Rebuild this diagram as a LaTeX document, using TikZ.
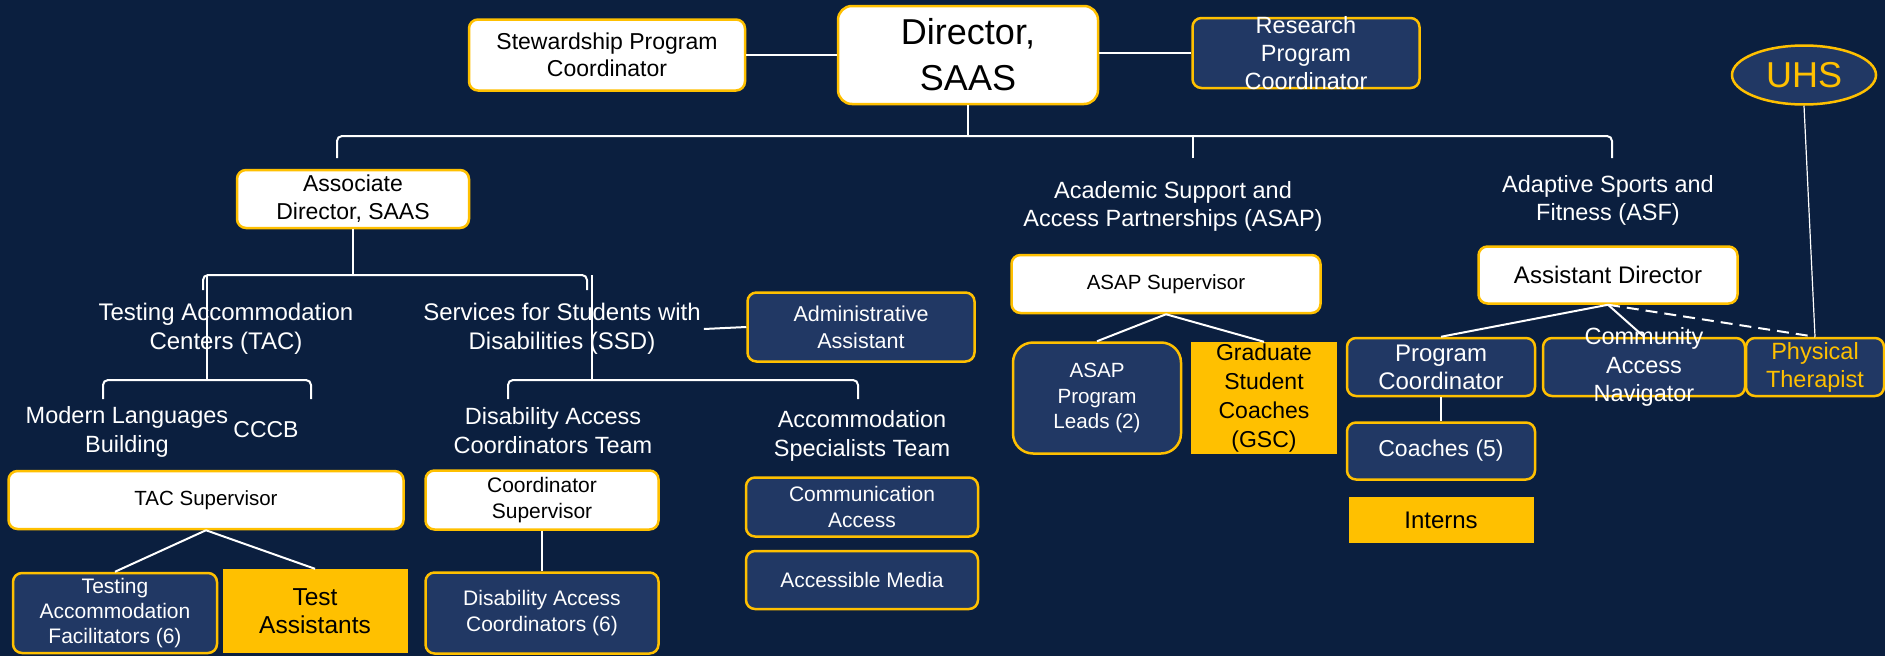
\documentclass[tikz,border=0pt]{standalone}
\usepackage{fontspec}
\setmainfont{Liberation Sans}
\usetikzlibrary{shapes.geometric, positioning}
\definecolor{bgnavy}{HTML}{0B1F3F}
\definecolor{boxnavy}{HTML}{213864}
\definecolor{gold}{HTML}{FFC000}

\begin{document}
\begin{tikzpicture}[x=1pt,y=-1pt,node distance=20pt]
\tikzset{
  box/.style={draw=gold, line width=2.5pt, rounded corners=9pt, align=center, inner sep=0pt},
  whitebox/.style={box, fill=white, text=black},
  navybox/.style={box, fill=boxnavy, text=white},
  goldbox/.style={fill=gold, text=black, align=center, inner sep=0pt},
  head/.style={text=white, align=center, inner sep=3pt},
  link/.style={draw=white, line width=2pt},
  brace/.style={link, rounded corners=5pt},
  thinlink/.style={draw=white, line width=1.2pt},
  fs/.style 2 args={font=\fontsize{#1}{#2}\selectfont},
}
\useasboundingbox (0,0) rectangle (1885,656);
\fill[bgnavy] (0,0) rectangle (1885,656);

        % top row
        \node[whitebox, fs={36}{46}, rounded corners=14pt, minimum width=260pt, minimum height=98pt] (dir) at (968,55) {Director,\\SAAS};
        \node[whitebox, fs={23}{27}, minimum width=276pt, minimum height=71pt] (stew) at (607,55) {Stewardship Program\\Coordinator};
        \node[navybox, minimum width=227pt, minimum height=70pt,
              label={[head, fs={23.5}{28}]center:Research\\Program\\Coordinator}] (research) at (1306,53) {};
        \node[ellipse, draw=gold, line width=2.5pt, fill=boxnavy, text=gold, fs={36}{40},
              minimum width=144pt, minimum height=59pt, inner sep=0pt] (uhs) at (1804,75) {UHS};

        % associate director branch
        \node[whitebox, fs={23}{28}, minimum width=232pt, minimum height=58pt] (assoc) at (353,199) {Associate\\Director, SAAS};
        \node[head, fs={24}{29}] (tac) at (226,329) {Testing Accommodation\\Centers (TAC)};
        \node[head, fs={24}{29}] (ssd) at (562,329) {Services for Students with\\Disabilities (SSD)};
        \node[navybox, fs={21.5}{27}, minimum width=227pt, minimum height=69pt] (admin) at (861,327) {Administrative\\Assistant};

        \node[head, fs={23.5}{29}] (mlb) at (127,432) {Modern Languages\\Building};
        \node[head, fs={23}{29}] (cccb) at (266,430) {CCCB};
        \node[head, fs={23.5}{29}] (dact) at (553,431) {Disability Access\\Coordinators Team};
        \node[head, fs={23.5}{29}] (ast) at (862,436) {Accommodation\\Specialists Team};

        \node[whitebox, fs={20.5}{25}, minimum width=395pt, minimum height=58pt] (tacsup) at (206,500) {TAC Supervisor};
        \node[navybox, fs={21}{25}, minimum width=204pt, minimum height=80pt] (taf) at (115,613) {Testing\\Accommodation\\Facilitators (6)};
        \node[goldbox, fs={24.5}{28}, minimum width=185pt, minimum height=84pt] (testa) at (315,611) {Test\\Assistants};

        \node[whitebox, fs={21}{26}, minimum width=233pt, minimum height=59pt] (coordsup) at (542,500) {Coordinator\\Supervisor};
        \node[navybox, fs={21}{26}, minimum width=233pt, minimum height=81pt] (dac) at (542,613) {Disability Access\\Coordinators (6)};
        \node[navybox, fs={21}{26}, minimum width=232pt, minimum height=59pt] (comm) at (862,507) {Communication\\Access};
        \node[navybox, fs={21}{26}, minimum width=232pt, minimum height=58pt] (media) [below=12pt of comm] {Accessible Media};

        % ASAP branch
        \node[head, fs={23.5}{28}] (asap) at (1173,206) {Academic Support and\\Access Partnerships (ASAP)};
        \node[whitebox, fs={20.5}{25}, minimum width=309pt, minimum height=58pt] (asapsup) at (1166,284) {ASAP Supervisor};
        \node[navybox, fs={20.6}{25.5}, rounded corners=20pt, minimum width=168pt, minimum height=111pt] (leads) at (1097,398) {ASAP\\Program\\Leads (2)};
        \node[goldbox, fs={23}{29}, minimum width=146pt, minimum height=112pt] (gsc) at (1264,398) {Graduate\\Student\\Coaches\\(GSC)};

        % ASF branch
        \node[head, fs={23.5}{28}] (asf) at (1608,200) {Adaptive Sports and\\Fitness (ASF)};
        \node[whitebox, fs={24}{28}, minimum width=259pt, minimum height=57pt] (asstdir) at (1608,275) {Assistant Director};
        \node[navybox, fs={24}{28}, minimum width=188pt, minimum height=58pt] (progco) at (1441,367) {Program\\Coordinator};
        \node[navybox, minimum width=202pt, minimum height=58pt,
              label={[head, fs={23.5}{28.5}]center:Community\\Access\\Navigator}] (can) at (1644,367) {};
        \node[navybox, text=gold, fs={23.5}{28}, minimum width=138pt, minimum height=58pt] (pt) at (1815,367) {Physical\\Therapist};
        \node[navybox, fs={23}{28}, minimum width=188pt, minimum height=57pt] (coaches) [below=24pt of progco] {Coaches (5)};
        \node[goldbox, fs={24}{28}, minimum width=185pt, minimum height=46pt] (interns) [below=16pt of coaches] {Interns};

        % bracket ends
        \coordinate (b1y) at (0,136);
        \coordinate (b1l) at (337,158);
        \coordinate (b1m) at (1193,158);
        \coordinate (b1r) at (1612,158);
        \coordinate (b2y) at (0,275);
        \coordinate (b2l) at (203,290);
        \coordinate (b2r) at (587,290);
        \coordinate (b3y) at (0,380);
        \coordinate (b3l) at (103,399);
        \coordinate (b3r) at (311,399);
        \coordinate (b4l) at (508,399);
        \coordinate (b4r) at (858,399);
        \coordinate (tacc) at (207,275);
        \coordinate (ssdc) at (592,275);

        \path[link]
        (stew.east)  edge  (dir.west)
        (dir.east |- research.west)  edge  (research.west)
        (dir.south)  edge  (dir.south |- b1y)
        (b1m)  edge  (b1m |- b1y)
        (assoc.south)  edge  (assoc.south |- b2y)
        (ssd.east)  edge  (admin.west)
        (tacsup.south)  edge  (taf.north)
        (tacsup.south)  edge  (testa.north)
        (coordsup.south)  edge  (dac.north)
        (asapsup.south)  edge  (leads.north)
        (asapsup.south)  edge  (gsc.north)
        (asstdir.south)  edge  (progco.north)
        (asstdir.south)  edge  (can.north)
        (progco.south)  edge  (coaches.north)
        ; %end path

        \draw[brace] (b1l) |- (dir.south |- b1y) -| (b1r);
        \draw[brace] (b2l) |- (assoc.south |- b2y) -| (b2r);
        \draw[brace] (b3l) |- (tacc |- b3y) -| (b3r);
        \draw[brace] (b4l) |- (ssdc |- b3y) -| (b4r);

        \draw[thinlink] (tacc) -- (tacc |- b3y);
        \draw[thinlink] (ssdc) -- (ssdc |- b3y);
        \draw[thinlink] (uhs.south) -- (pt.north);
        \draw[link, dash pattern=on 12pt off 7pt] (asstdir.south) -- (pt.north);

\end{tikzpicture}
\end{document}
